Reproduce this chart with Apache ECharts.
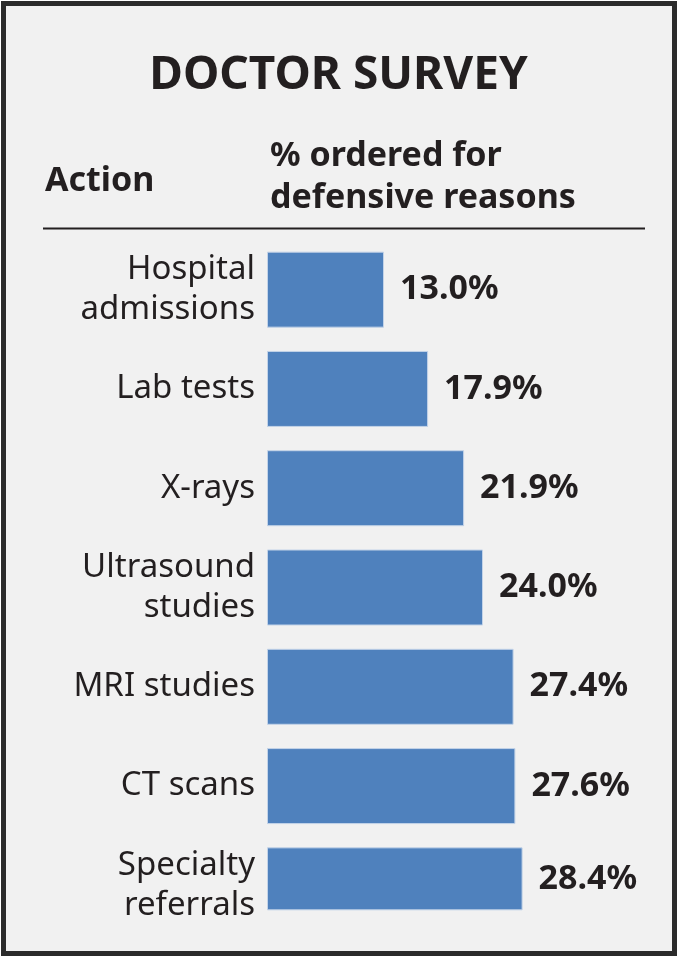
<!DOCTYPE html>
<html>
<head>
<meta charset="utf-8">
<script src="https://cdn.jsdelivr.net/npm/echarts@6/dist/echarts.min.js"></script>
<style>
  html, body { margin: 0; padding: 0; background: #ffffff; }
  #chart1 { width: 677px; height: 956px; }
</style>
</head>
<body>
<div id="chart1"></div>
<script>
var categories = ['Hospital\nadmissions', 'Lab tests', 'X-rays', 'Ultrasound\nstudies', 'MRI studies', 'CT scans', 'Specialty\nreferrals'];
var percentages = [13.0, 17.9, 21.9, 24.0, 27.4, 27.6, 28.4];

var textColor = '#231f20';
var barColor = '#4f81bd';
var lastIdx = percentages.length - 1;

var myChart = echarts.init(document.getElementById('chart1'));

// the last bar is drawn a bit thinner in the original, so it gets its own series
var lastBar = percentages.map(function (v, i) { return i === lastIdx ? v : '-'; });
var otherBars = percentages.map(function (v, i) { return i === lastIdx ? '-' : v; });

var valueLabel = {
    show: true,
    position: 'right',
    distance: 16,
    color: textColor,
    fontFamily: 'Noto Sans',
    fontWeight: 'bold',
    fontSize: 34,
    formatter: function (p) { return p.value.toFixed(1) + '%'; }
};

option = {
    backgroundColor: '#ffffff',
    animation: false,
    graphic: [
        {
            type: 'rect',
            shape: { x: 3.5, y: 3.5, width: 671, height: 950 },
            style: { fill: '#f1f1f1', stroke: '#2b2b2b', lineWidth: 5 },
            z: -10
        },
        {
            type: 'text',
            x: 338.5, y: 76,
            style: { text: 'DOCTOR SURVEY', fill: textColor, font: 'bold 46px "Noto Sans"', align: 'center', verticalAlign: 'middle' }
        },
        {
            type: 'text',
            x: 45, y: 181,
            style: { text: 'Action', fill: textColor, font: 'bold 34px "Noto Sans"', align: 'left', verticalAlign: 'middle' }
        },
        {
            type: 'text',
            x: 270, y: 156,
            style: { text: '% ordered for', fill: textColor, font: 'bold 34px "Noto Sans"', align: 'left', verticalAlign: 'middle' }
        },
        {
            type: 'text',
            x: 270, y: 198,
            style: { text: 'defensive reasons', fill: textColor, font: 'bold 34px "Noto Sans"', align: 'left', verticalAlign: 'middle' }
        },
        {
            type: 'line',
            shape: { x1: 43, y1: 228.5, x2: 645, y2: 228.5 },
            style: { stroke: textColor, lineWidth: 2 }
        }
    ],
    grid: {
        left: 267,
        top: 240,
        width: 360,
        height: 695
    },
    xAxis: {
        type: 'value',
        min: 0,
        max: 40,
        show: false
    },
    yAxis: {
        type: 'category',
        inverse: true,
        data: categories,
        axisLine: { show: false },
        axisTick: { show: false },
        axisLabel: {
            color: textColor,
            fontFamily: 'Noto Sans',
            fontSize: 33,
            lineHeight: 40,
            margin: 12
        }
    },
    series: [
        {
            type: 'bar',
            barWidth: 63,
            barGap: '-100%',
            itemStyle: { color: barColor, borderColor: '#c3d3e8', borderWidth: 1 },
            label: valueLabel,
            data: lastBar
        },
        {
            type: 'bar',
            barWidth: 76,
            barGap: '-100%',
            itemStyle: { color: barColor, borderColor: '#c3d3e8', borderWidth: 1 },
            label: valueLabel,
            data: otherBars
        }
    ]
};
myChart.setOption(option);
window.onresize = myChart.resize;
</script>
</body>
</html>
